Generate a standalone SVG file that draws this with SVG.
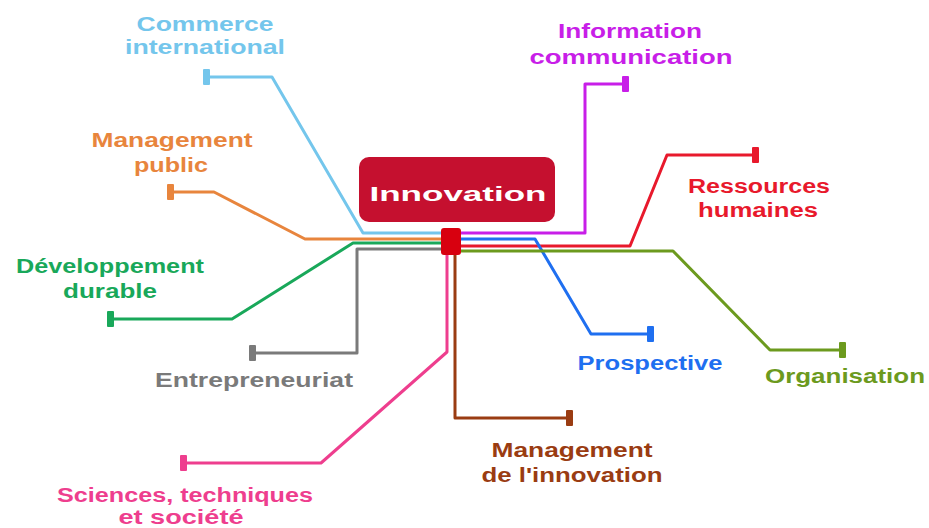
<svg xmlns="http://www.w3.org/2000/svg" width="929" height="528" viewBox="0 0 929 528">
<style>
text{font-family:"Liberation Sans",Arial,sans-serif;font-weight:700;font-size:20px;text-anchor:middle}
.ln{fill:none;stroke-width:3;stroke-linejoin:round}
.lb{stroke:#74c6ec}.fb{fill:#74c6ec}
.pu{stroke:#c81ee8}.fpu{fill:#c81ee8}
.or{stroke:#e8853d}.for{fill:#e8853d}
.rd{stroke:#e8192c}.frd{fill:#e8192c}
.gr{stroke:#19a85a}.fgr{fill:#19a85a}
.gy{stroke:#7a7a7a}.fgy{fill:#7a7a7a}
.bl{stroke:#1f6ff0}.fbl{fill:#1f6ff0}
.ol{stroke:#6c9a1e}.fol{fill:#6c9a1e}
.br{stroke:#9a3c12}.fbr{fill:#9a3c12}
.pk{stroke:#ee3e8e}.fpk{fill:#ee3e8e}
</style>
<rect width="929" height="528" fill="#ffffff"/>
<g id="connectors">
<path class="ln lb" d="M441,233 H363 L272,77 H207"/>
<rect class="fb" x="203" y="69" width="7" height="16" rx="1"/>
<path class="ln pu" d="M460,233 H585 V84 H626"/>
<rect class="fpu" x="622" y="76" width="7" height="16" rx="1"/>
<path class="ln or" d="M441,239 H305 L214,192 H171"/>
<rect class="for" x="167" y="184" width="7" height="16" rx="1"/>
<path class="ln rd" d="M460,246 H630 L667,155 H756"/>
<rect class="frd" x="752" y="147" width="7" height="16" rx="1"/>
<path class="ln gr" d="M441,243 H353 L232,319 H111"/>
<rect class="fgr" x="107" y="311" width="7" height="16" rx="1"/>
<path class="ln gy" d="M441,249 H357 V353 H253"/>
<rect class="fgy" x="249" y="345" width="7" height="16" rx="1"/>
<path class="ln bl" d="M460,239 H535 L591,334 H651"/>
<rect class="fbl" x="647" y="326" width="7" height="16" rx="1"/>
<path class="ln ol" d="M460,251 H673 L770,350 H843"/>
<rect class="fol" x="839" y="342" width="7" height="16" rx="1"/>
<path class="ln br" d="M455,255 V418 H570"/>
<rect class="fbr" x="566" y="410" width="7" height="16" rx="1"/>
<path class="ln pk" d="M447,255 V352 L321,463 H184"/>
<rect class="fpk" x="180" y="455" width="7" height="16" rx="1"/>
</g>
<g id="hub">
<rect x="441" y="228" width="20" height="27" rx="3" fill="#d8000f"/>
</g>
<g id="innovation">
<rect x="359" y="157" width="196" height="65" rx="10" fill="#c5102f"/>
<text x="458" y="201" font-size="34" fill="#ffffff" textLength="177" lengthAdjust="spacingAndGlyphs">Innovation</text>
</g>
<g id="commerce-international" fill="#74c6ec">
<text x="205" y="31" textLength="137" lengthAdjust="spacingAndGlyphs">Commerce</text>
<text x="205" y="54" textLength="160" lengthAdjust="spacingAndGlyphs">international</text>
</g>
<g id="information-communication" fill="#c81ee8">
<text x="630" y="38" textLength="144" lengthAdjust="spacingAndGlyphs">Information</text>
<text x="631" y="64" textLength="203" lengthAdjust="spacingAndGlyphs">communication</text>
</g>
<g id="management-public" fill="#e8853d">
<text x="172" y="147" textLength="161" lengthAdjust="spacingAndGlyphs">Management</text>
<text x="171" y="172" textLength="74" lengthAdjust="spacingAndGlyphs">public</text>
</g>
<g id="ressources-humaines" fill="#e8192c">
<text x="759" y="193" textLength="142" lengthAdjust="spacingAndGlyphs">Ressources</text>
<text x="758" y="217" textLength="120" lengthAdjust="spacingAndGlyphs">humaines</text>
</g>
<g id="developpement-durable" fill="#19a85a">
<text x="110" y="273" textLength="188" lengthAdjust="spacingAndGlyphs">Développement</text>
<text x="110" y="298" textLength="94" lengthAdjust="spacingAndGlyphs">durable</text>
</g>
<g id="entrepreneuriat" fill="#7a7a7a">
<text x="254" y="387" textLength="198" lengthAdjust="spacingAndGlyphs">Entrepreneuriat</text>
</g>
<g id="prospective" fill="#1f6ff0">
<text x="650" y="370" textLength="145" lengthAdjust="spacingAndGlyphs">Prospective</text>
</g>
<g id="organisation" fill="#6c9a1e">
<text x="845" y="383" textLength="160" lengthAdjust="spacingAndGlyphs">Organisation</text>
</g>
<g id="management-innovation" fill="#9a3c12">
<text x="572" y="457" textLength="161" lengthAdjust="spacingAndGlyphs">Management</text>
<text x="572" y="482" textLength="181" lengthAdjust="spacingAndGlyphs">de l'innovation</text>
</g>
<g id="sciences-techniques-societe" fill="#ee3e8e">
<text x="185" y="502" font-size="19" textLength="256" lengthAdjust="spacingAndGlyphs">Sciences, techniques</text>
<text x="181" y="524" font-size="19" textLength="125" lengthAdjust="spacingAndGlyphs">et société</text>
</g>
</svg>
